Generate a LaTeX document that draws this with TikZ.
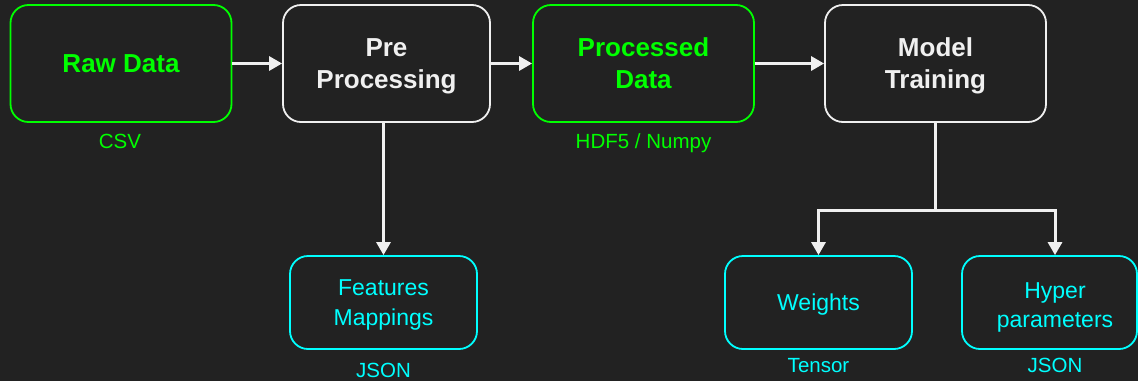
\documentclass[tikz,border=0pt]{standalone}
\usepackage{fontspec}
\setmainfont{Liberation Sans}
\usetikzlibrary{arrows.meta}

\definecolor{bg}{HTML}{222222}
\definecolor{lime}{HTML}{00FF00}
\definecolor{aqua}{HTML}{00FFFF}
\definecolor{paper}{HTML}{F0F0F0}

\tikzset{
  box/.style={draw, rounded corners=18pt, line width=1.8pt, align=center,
    inner sep=0pt, text depth=0pt},
  bigbox/.style={box, minimum width=221pt, minimum height=117pt,
    font=\fontsize{26}{32}\selectfont\bfseries},
  greenbox/.style={bigbox, draw=lime, text=lime},
  whitebox/.style={bigbox, draw=paper, text=paper},
  smallbox/.style={box, draw=aqua, text=aqua, minimum height=93pt,
    font=\fontsize{23}{30}\selectfont},
  tag/.style={font=\fontsize{20.5}{24}\selectfont, anchor=base},
  flow/.style={draw=paper, line width=3pt,
    -{Triangle[length=13pt,width=14pt]}},
}

\begin{document}
\begin{tikzpicture}[x=1pt,y=-1pt]
  \fill[bg] (0,0) rectangle (1138,381);
  \useasboundingbox (0,0) rectangle (1138,381);

  % main pipeline
  \node[greenbox] (raw)   at (121,63.5)   {Raw Data};
  \node[whitebox, minimum width=207pt] (pre) at (386.5,63.5) {Pre\\Processing};
  \node[greenbox] (proc)  at (643.5,63.5) {Processed\\Data};
  \node[whitebox] (model) at (935.5,63.5) {Model\\Training};

  % artefacts
  \node[smallbox, minimum width=187pt] (feat) at (383.5,302.5) {Features\\Mappings};
  \node[smallbox, minimum width=187pt] (weights) at (818.5,302.5) {Weights};
  \node[smallbox, minimum width=175pt] (hyper) at (1049.5,302.5)
    {\hspace*{11pt}\begin{tabular}[b]{@{}c@{}}Hyper\\[-1pt]parameters\end{tabular}};

  % format tags
  \node[tag, text=lime] (csv)  at (120,148) {CSV};
  \node[tag, text=lime] (hdf)  at (643.5,148) {HDF5 / Numpy};
  \node[tag, text=aqua] (json1) at (383.5,377) {JSON};
  \node[tag, text=aqua] (tens) at (818.5,372) {Tensor};
  \node[tag, text=aqua] (json2) at (1055,372) {JSON};

  % connectors
  \draw[flow] (raw.east) -- (pre.west);
  \draw[flow] (pre.east) -- (proc.west);
  \draw[flow] (proc.east) -- (model.west);
  \draw[flow] (pre.south -| feat.north) -- (feat.north);
  \coordinate (split) at ([yshift=-88pt]model.south);
  \draw[flow] (model.south) -- (split) -| (weights.north);
  \draw[flow] (split) -| ([xshift=5.5pt]hyper.north);
\end{tikzpicture}
\end{document}
